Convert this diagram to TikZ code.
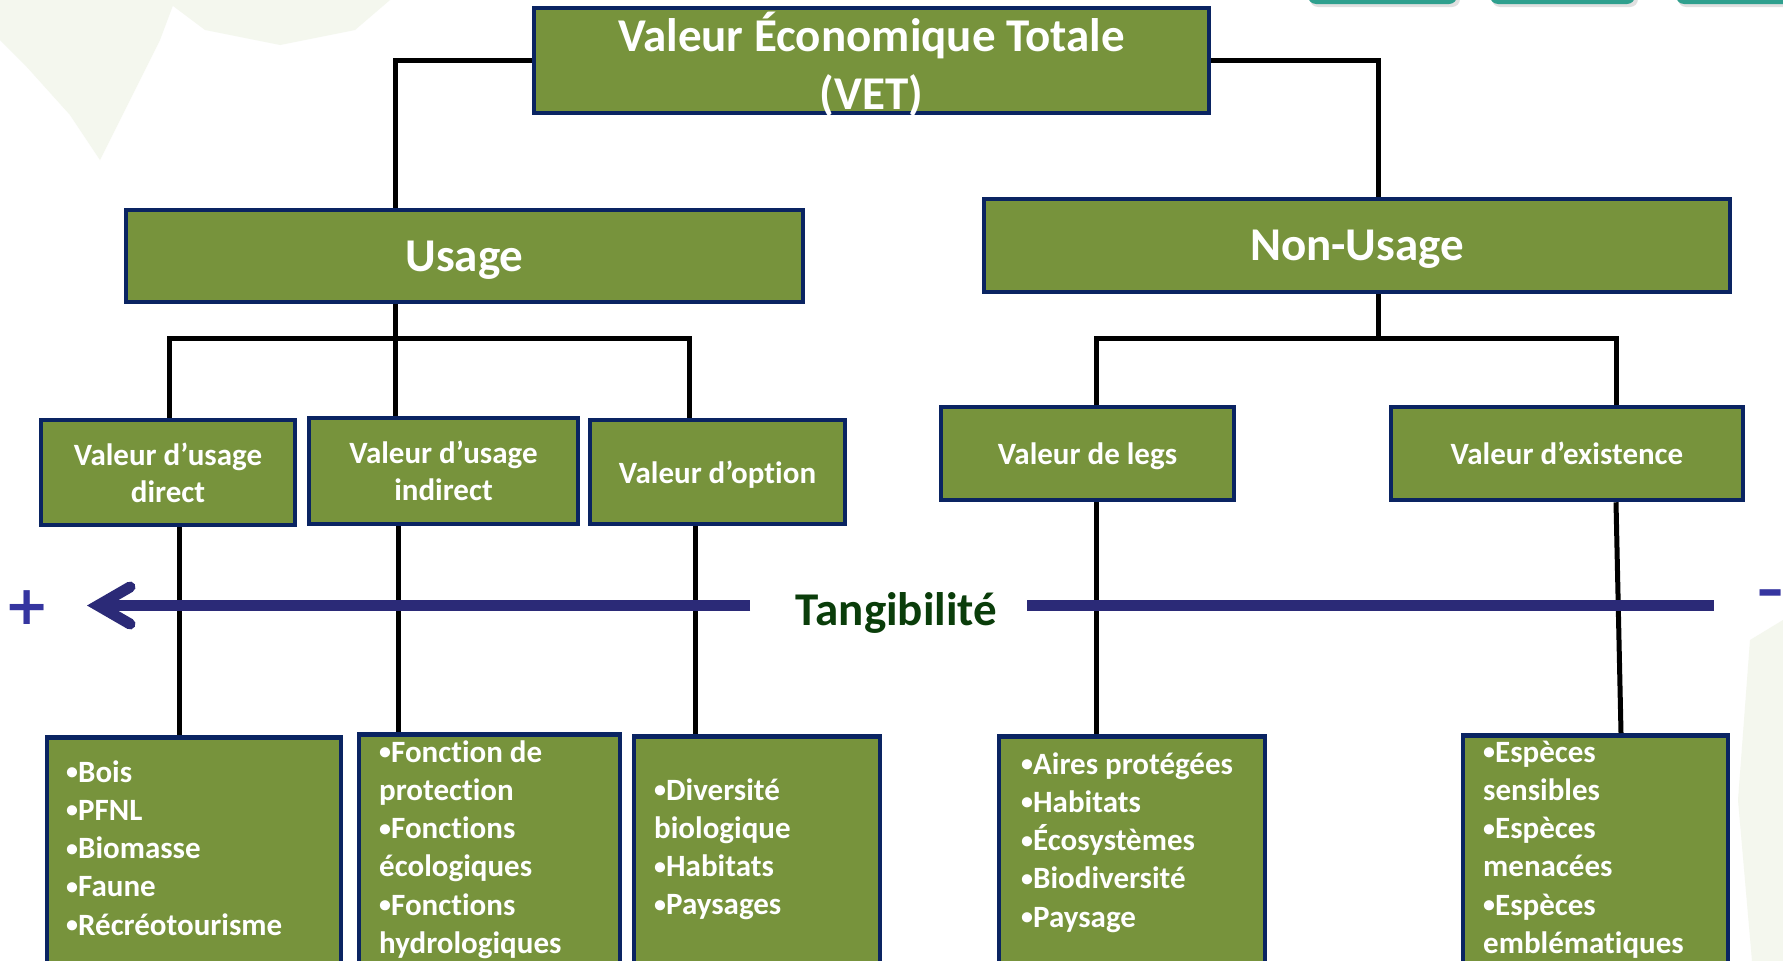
\documentclass[tikz,border=0pt]{standalone}
\usepackage{fontspec}
\setmainfont{Carlito}[Ligatures=NoCommon]
\newfontfamily\symfont{DejaVu Sans}
\definecolor{boxfill}{HTML}{77933C}
\definecolor{boxdraw}{HTML}{0A2462}
\definecolor{axiscol}{HTML}{2B2A77}
\definecolor{signcol}{HTML}{3535A0}
\definecolor{tangcol}{HTML}{0A3D0A}
\definecolor{leafcol}{HTML}{F4F7EE}
\definecolor{tabteal}{HTML}{2FA08E}
\newcommand\bul{\raisebox{2.5pt}{\fontsize{24}{24}\selectfont •}}
\begin{document}
\begin{tikzpicture}[x=1pt,y=-1pt,
  vbox/.style={draw=boxdraw, line width=4.5pt, fill=boxfill, text=white, inner sep=0pt, align=center, text depth=0pt},
  bigtext/.style={font=\bfseries\fontsize{47}{58}\selectfont},
  midtext/.style={font=\bfseries\fontsize{31}{37}\selectfont},
  listbox/.style={draw=boxdraw, line width=4.5pt, fill=boxfill, inner sep=0pt, anchor=north},
  listtext/.style={text=white, font=\bfseries\fontsize{31}{38.2}\selectfont, align=left, inner sep=0pt, anchor=north west},
  conn/.style={line width=5pt, black},
  tanaxis/.style={line width=11pt, axiscol}
]
\clip (0,0) rectangle (1783,961);
\fill[white] (0,0) rectangle (1783,961);
% faint background leaves
\fill[leafcol] (0,0) -- (175,0) -- (160,40) -- (130,100) -- (100,160) -- (70,115) -- (25,65) -- (0,40) -- cycle;
\fill[leafcol] (165,0) -- (390,0) -- (355,30) -- (280,45) -- (205,30) -- cycle;
\fill[leafcol] (1750,640) -- (1783,620) -- (1783,961) -- (1752,961) -- (1738,800) -- cycle;
% top-right tabs
\fill[black!12, rounded corners=8pt] (1310,-30) rectangle (1460,7);
\fill[black!12, rounded corners=8pt] (1492,-30) rectangle (1638,7);
\fill[black!12, rounded corners=8pt] (1678,-30) rectangle (1800,7);
\fill[tabteal, rounded corners=8pt] (1308,-30) rectangle (1457,4);
\fill[tabteal, rounded corners=8pt] (1490,-30) rectangle (1635,4);
\fill[tabteal, rounded corners=8pt] (1676,-30) rectangle (1800,4);

% junction coordinates
\coordinate (uj) at (395,338);
\coordinate (uL) at (169,338);
\coordinate (uR) at (689,338);
\coordinate (nj) at (1378,338);
\coordinate (nL) at (1096,338);
\coordinate (nR) at (1616,338);

% level 1 and 2
\node[vbox, bigtext, minimum width=675pt, minimum height=105pt] (vet) at (871.5,60.5) {Valeur Économique Totale\\(VET)};
\node[vbox, bigtext, minimum width=677pt, minimum height=92pt] (usage) at (464.5,256) {Usage};
\node[vbox, bigtext, minimum width=746pt, minimum height=93pt] (nonusage) at (1357,245.5) {Non-Usage};

% level 3
\node[vbox, midtext, minimum width=254pt, minimum height=105pt] (d1) at (168,472.5) {Valeur d’usage\\direct};
\node[vbox, midtext, minimum width=269pt, minimum height=106pt] (d2) at (443.5,471) {Valeur d’usage\\indirect};
\node[vbox, midtext, minimum width=255pt, minimum height=104pt] (d3) at (717.5,472) {Valeur d’option};
\node[vbox, midtext, minimum width=293pt, minimum height=93pt] (d4) at (1087.5,453.5) {Valeur de legs};
\node[vbox, midtext, minimum width=352pt, minimum height=93pt] (d5) at (1567,453.5) {Valeur d’existence};

% level 4 boxes
\node[listbox, minimum width=294pt, minimum height=265pt] (l1) at (194,735) {};
\node[listbox, minimum width=261pt, minimum height=268pt] (l2) at (489.5,732) {};
\node[listbox, minimum width=246pt, minimum height=266pt] (l3) at (757,734) {};
\node[listbox, minimum width=266pt, minimum height=266pt] (l4) at (1132,734) {};
\node[listbox, minimum width=265pt, minimum height=267pt] (l5) at (1595.5,733) {};

\node[listtext] (t1) at (66,757) {\rule{0pt}{25pt}\bul Bois\\\bul PFNL\\\bul Biomasse\\\bul Faune\\\bul Récréotourisme};
\node[listtext] (t2) at (379,737) {\rule{0pt}{25pt}\bul Fonction de\\protection\\\bul Fonctions\\écologiques\\\bul Fonctions\\hydrologiques};
\node[listtext] (t3) at (654,775) {\rule{0pt}{25pt}\bul Diversité\\biologique\\\bul Habitats\\\bul Paysages};
\node[listtext] (t4) at (1021,749) {\rule{0pt}{25pt}\bul Aires protégées\\\bul Habitats\\\bul Écosystèmes\\\bul Biodiversité\\\bul Paysage};
\node[listtext] (t5) at (1483,737) {\rule{0pt}{25pt}\bul Espèces\\sensibles\\\bul Espèces\\menacées\\\bul Espèces\\emblématiques};

% connectors
\draw[conn] (vet.west) -| (usage.north -| uj);
\draw[conn] (vet.east) -| (nonusage.north -| nj);
\draw[conn] (usage.south -| uj) -- (uj);
\draw[conn] (d1.north -| uL) |- (uR) -- (d3.north -| uR);
\draw[conn] (uj) -- (d2.north -| uj);
\draw[conn] (nonusage.south -| nj) -- (nj);
\draw[conn] (d4.north -| nL) |- (nR) -- (d5.north -| nR);
\draw[conn] (d1.south -| 179,0) -- (l1.north -| 179,0);
\draw[conn] (d2.south -| 398,0) -- (l2.north -| 398,0);
\draw[conn] (d3.south -| 695,0) -- (l3.north -| 695,0);
\draw[conn] (d4.south -| 1096,0) -- (l4.north -| 1096,0);
\draw[conn] (d5.south -| 1616,0) -- (l5.north -| 1621,0);

% tangibility axis
\coordinate (tangL) at (750,605.5);
\coordinate (tip) at (98,605.5);
\coordinate (tangR0) at (1027,605.5);
\coordinate (tangR1) at (1714,605.5);
\draw[tanaxis] (tangL) -- (tip);
\draw[tanaxis, line cap=round, line join=miter] (tip) ++(32,-18.5) -- (tip) -- ++(32,18.5);
\draw[tanaxis] (tangR0) -- (tangR1);
\node[text=tangcol, font=\bfseries\fontsize{47}{56}\selectfont, anchor=base, inner sep=0pt] (tang) at (896.5,625) {Tangibilité};
\node[text=signcol, font=\symfont\bfseries\fontsize{54}{58}\selectfont, inner sep=0pt] (plus) at (27,608) {+};
\node[text=signcol, font=\symfont\bfseries\fontsize{56}{60}\selectfont, inner sep=0pt, anchor=west] (minus) at (1756,600.5) {\scalebox{0.6}[1]{−}};
\end{tikzpicture}
\end{document}
